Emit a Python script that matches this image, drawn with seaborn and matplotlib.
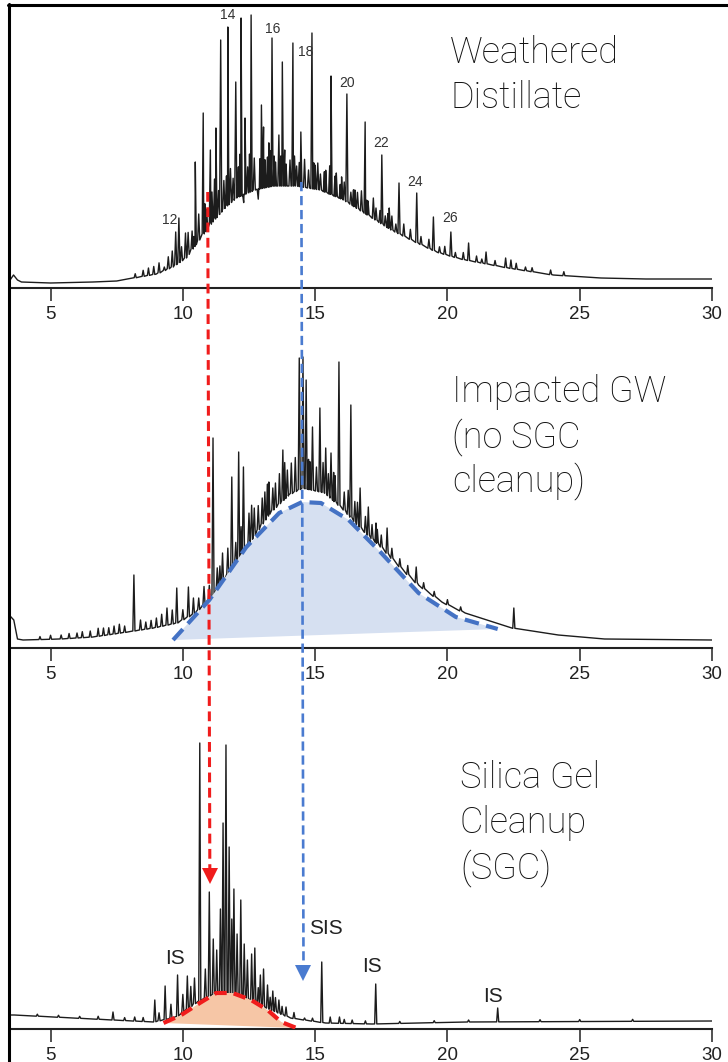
import numpy as np
import matplotlib
matplotlib.use("Agg")
import matplotlib.pyplot as plt
import matplotlib.transforms as mtransforms
from matplotlib.lines import Line2D
import seaborn as sns

sns.set_theme(style="white")
plt.rcParams["font.family"] = ["Liberation Sans", "DejaVu Sans"]

# ------------------------------------------------------------------
# data: retention time (min) / signal (px above each panel's axis)
# ------------------------------------------------------------------
ticks = [5, 10, 15, 20, 25, 30]

# panel 1 - weathered distillate
hump1_t = [3.47, 3.6, 3.75, 3.9, 5.0, 6.6, 7.5, 8.35, 9.0, 9.6, 10.1, 10.6, 11.1, 11.6, 12.0,
           12.7, 13.4, 14.3, 15.2, 16.1, 17.0, 17.9, 18.8, 19.6, 20.5, 22.3, 24.0, 25.8, 27.5, 30.0]
hump1_h = [8, 13, 8, 6, 5, 6, 7, 11, 14, 21, 30, 48, 66, 81, 90,
           98, 102, 102, 98, 88, 73, 58, 46, 36, 29, 20, 13, 10, 9, 9]
peak1_t = [8.7, 9.3, 9.73, 9.85, 10.1, 10.47, 10.77, 11.04, 11.25, 11.43, 11.7, 12.0, 12.2, 12.35,
           12.58, 12.97, 13.05, 13.2, 13.37, 13.63, 13.76, 14.16, 14.46, 14.88, 15.1, 15.6, 15.8,
           16.2, 16.5, 16.89, 17.2, 17.52, 17.8, 18.17, 18.84, 19.47, 20.13, 20.8, 21.46, 22.2,
           22.4, 22.95, 23.9]
peak1_h = [20, 21, 56, 70, 55, 126, 175, 138, 160, 248, 261, 206, 270, 170,
           273, 183, 161, 131, 250, 153, 226, 245, 156, 255, 125, 212, 115,
           194, 98, 166, 90, 133, 80, 105, 95, 71, 56, 45, 36, 30,
           28, 21, 18]
grass1_t = [8.2, 8.5, 8.9, 9.1, 9.45, 9.6, 9.95, 10.2, 10.35, 10.42, 10.6, 10.83, 10.9, 11.1, 11.2,
            11.35, 11.55, 11.65, 11.8, 11.9, 12.1, 12.15, 12.3, 12.45, 12.52, 12.7, 12.85, 12.91,
            13.1, 13.25, 13.3, 13.45, 13.5, 13.7, 13.85, 13.9, 14.05, 14.22, 14.3, 14.4, 14.6,
            14.75, 14.95, 15.0, 15.2, 15.35, 15.4, 15.55, 15.75, 15.95, 16.0, 16.1, 16.35, 16.45,
            16.6, 16.75, 16.95, 17.0, 17.3, 17.45, 17.65, 17.75, 17.9, 18.05, 18.35, 18.6, 19.0,
            19.3, 19.7, 19.9, 20.3, 20.6, 21.1, 21.3, 21.8, 22.6, 23.2, 24.4]
grass1_h = [4, 6, 8, 10, 12, 16, 14, 22, 18, 10, 26, 28, 20, 30, 40,
            24, 28, 30, 34, 22, 30, 42, -8, 26, 38, 32, -10, 30,
            28, 44, 36, 30, 24, 30, 36, 22, 26, 30, 20, 24, 28,
            18, 26, 24, 16, 20, 22, 28, 20, 14, 22, 18, 12, 16,
            16, 20, 14, 14, 12, 12, 10, 14, 14, 8, 12, 10, 8,
            9, 6, 8, 5, 7, 6, 4, 5, 6, 4, 4]
carbon_lbl = ["12", "14", "16", "18", "20", "22", "24", "26"]
carbon_t = [9.52, 11.68, 13.38, 14.63, 16.2, 17.49, 18.78, 20.1]
carbon_h = [68, 273, 259, 236, 205, 145, 106, 70]

# panel 2 - impacted groundwater, no cleanup
hump2_t = [3.47, 3.61, 3.75, 3.96, 5.37, 6.6, 7.65, 8.89, 9.77, 10.47, 11.17, 11.88, 12.58, 13.28,
           13.99, 14.51, 15.39, 16.1, 16.8, 17.5, 18.21, 18.91, 19.79, 20.67, 22.43, 24.19,
           25.94, 30.0]
hump2_h = [32, 28, 9, 8, 9, 11, 15, 20, 25, 35, 53, 81, 108, 135,
           153, 160, 155, 138, 118, 101, 81, 63, 46, 35, 20, 13,
           9, 8]
peak2_t = [5.4, 6.0, 6.5, 7.0, 7.4, 7.8, 8.15, 8.6, 9.0, 9.4, 9.77, 10.21, 10.6, 11.14, 11.5,
           11.85, 12.11, 12.29, 12.7, 13.0, 13.25, 13.5, 13.78, 14.1, 14.4, 14.54, 14.66, 14.9,
           15.18, 15.4, 15.6, 15.9, 16.35, 16.7, 17.01, 17.3, 17.72, 18.82, 22.51]
peak2_h = [13, 15, 17, 20, 22, 22, 73, 26, 30, 40, 60, 61, 50, 210, 95,
           171, 196, 181, 140, 150, 166, 165, 198, 185, 290, 291, 268, 221,
           240, 200, 195, 286, 243, 160, 141, 125, 120, 81, 40]
grass2_t = [4.6, 5.0, 5.7, 6.2, 6.8, 7.2, 7.6, 8.4, 8.8, 9.2, 9.6, 10.0, 10.4, 10.8, 11.0, 11.3,
            11.4, 11.7, 12.0, 12.2, 12.5, 12.6, 12.85, 13.1, 13.2, 13.4, 13.65, 13.85, 13.95,
            14.25, 14.75, 14.8, 15.05, 15.3, 15.5, 15.7, 15.75, 16.1, 16.25, 16.5, 16.6, 16.9,
            17.15, 17.35, 17.5, 17.9, 18.2, 18.5, 19.1, 19.5, 20.0, 20.5]
grass2_h = [3, 4, 5, 6, 8, 7, 9, 10, 8, 12, 14, 10, 16, 18, 14, 22,
            20, 26, 20, 28, 30, 34, 24, 28, 32, 22, 30, 36, 26,
            34, 30, 28, 24, 30, 22, 28, 26, 18, 24, 20, 22, 16,
            14, 14, 12, 10, 8, 9, 6, 5, 5, 4]
blue_t = [9.63, 11.0, 12.4, 13.64, 14.51, 15.22, 16.27, 17.5, 18.91, 20.32, 21.9]
blue_h = [8, 48, 101, 135, 146, 145, 128, 95, 55, 31, 19]

# panel 3 - silica gel cleanup
hump3_t = [3.47, 3.63, 6.6, 8.89, 9.77, 10.47, 11.08, 11.52, 12.05, 12.58, 13.1, 13.63, 14.07,
           15.39, 17.15, 20.67, 30.0]
hump3_h = [14, 14, 10, 7, 12, 26, 34, 36, 34, 29, 22, 16, 11,
           6, 5, 7, 8]
peak3_t = [7.36, 8.18, 8.94, 9.33, 9.8, 10.17, 10.44, 10.64, 10.85, 11.0, 11.15, 11.28, 11.42,
           11.52, 11.63, 11.75, 11.85, 11.93, 12.05, 12.19, 12.32, 12.44, 12.6, 12.72, 12.93,
           13.05, 13.2, 13.4, 13.63, 13.9, 14.6, 15.25, 15.57, 15.92, 16.4, 17.29, 21.9]
peak3_h = [17, 12, 29, 43, 54, 53, 51, 286, 60, 137, 90, 79, 120,
           206, 284, 182, 110, 140, 95, 129, 85, 69, 75, 81, 54,
           60, 44, 38, 29, 22, 11, 67, 12, 12, 9, 45, 21]
grass3_t = [4.5, 5.3, 6.1, 6.8, 7.8, 8.5, 9.1, 9.55, 10.0, 10.3, 12.85, 13.3, 13.5, 13.75, 14.2,
            14.9, 16.1, 16.9, 18.2, 19.5, 20.8, 23.5, 25.0, 27.0]
grass3_h = [2, 2, 2, 3, 3, 4, 8, 14, 18, 20, 16, 12, 14, 8, 6,
            3, 4, 3, 2, 2, 2, 2, 2, 2]
orange_t = [9.27, 9.94, 10.64, 11.26, 11.88, 12.58, 13.2, 13.72, 14.3]
orange_h = [6, 14, 26, 36, 36, 29, 19, 7, 1]
std_lbl = ["IS", "SIS", "IS", "IS"]
std_t = [9.69, 15.41, 17.15, 21.72]
std_h = [71, 100, 62, 33]

titles = [["Weathered", "Distillate"],
          ["Impacted GW", "(no SGC", "cleanup)"],
          ["Silica Gel", "Cleanup", "(SGC)"]]

# ------------------------------------------------------------------
W, H = 728, 1062
fig = plt.figure(figsize=(W / 100, H / 100), dpi=100)


def fy(ypx):
    return 1 - ypx / H


def trace(env_t, env_h, pk_t, pk_h, gr_t, gr_h, w=0.04):
    # hump + spikes (absolute peak heights, grass heights relative to the hump)
    env_t = np.asarray(env_t, float)
    env_h = np.asarray(env_h, float)
    spikes = [(t, h, False) for t, h in zip(pk_t, pk_h)] + \
             [(t, h, True) for t, h in zip(gr_t, gr_h)]
    centres = np.array([s[0] for s in spikes])
    keep = np.array([np.all(np.abs(centres - t) > w) for t in env_t])
    pts = list(zip(env_t[keep], env_h[keep]))
    for t, h, rel in spikes:
        base = float(np.interp(t, env_t, env_h))
        top = base + h if rel else h
        pts += [(t - w, base), (t, top), (t + w, base)]
    pts.sort()
    x, y = zip(*pts)
    return np.array(x), np.array(y)


boxes = [(6, 288), (300, 648), (680, 1029)]
axes = []
for top, bot in boxes:
    ax = fig.add_axes([10 / W, fy(bot), 702 / W, (bot - top) / H])
    ax.set_xlim(3.467, 30)
    ax.set_ylim(0, bot - top)
    ax.patch.set_alpha(0)
    for s in ("left", "right", "top"):
        ax.spines[s].set_visible(False)
    ax.spines["bottom"].set_linewidth(1.5)
    ax.spines["bottom"].set_color("#222222")
    ax.set_xticks(ticks)
    ax.set_yticks([])
    ax.tick_params(axis="x", bottom=True, direction="out", length=9.5, width=1.1,
                   pad=3.5, labelsize=13.5, colors="#222222")
    axes.append(ax)

traces = [trace(hump1_t, hump1_h, peak1_t, peak1_h, grass1_t, grass1_h),
          trace(hump2_t, hump2_h, peak2_t, peak2_h, grass2_t, grass2_h),
          trace(hump3_t, hump3_h, peak3_t, peak3_h, grass3_t, grass3_h)]
for ax, (x, y) in zip(axes, traces):
    sns.lineplot(x=x, y=y, sort=False, estimator=None, ax=ax, color="#1c1c1c",
                 lw=1.0, legend=False, zorder=2)

# carbon number labels
for lbl, t, h in zip(carbon_lbl, carbon_t, carbon_h):
    axes[0].text(t, h, lbl, ha="center", va="center", fontsize=10, color="#333333")

# unresolved hump outlines
ax = axes[1]
ax.fill(blue_t, blue_h, color="#d6e0f1", lw=0, zorder=3)
ax.plot(blue_t, blue_h, color="#4472c4", lw=3, ls=(0, (3.5, 1.8)), zorder=4)
ax = axes[2]
ax.fill(orange_t, orange_h, color="#f6c6a6", lw=0, zorder=3)
ax.plot(orange_t, orange_h, color="#f01c1c", lw=3, ls=(0, (3.0, 1.7)), zorder=4)
for lbl, t, h in zip(std_lbl, std_t, std_h):
    ax.text(t, h, lbl, ha="center", va="center", fontsize=15, color="#222222")

# sample names
title_pos = [(450, [63, 108]), (452, [402, 447, 491]), (460, [788, 833, 878])]
for lines, (xp, ys) in zip(titles, title_pos):
    for txt, yp in zip(lines, ys):
        fig.text(xp / W, fy(yp), txt, fontsize=26, family=["Roboto", "DejaVu Sans"],
                 fontweight="light", va="baseline", ha="left", color="#111111")

# retention markers running through the three panels
blend = mtransforms.blended_transform_factory(axes[0].transData, fig.transFigure)
fig.add_artist(Line2D([10.94, 11.02], [fy(192), fy(869)], color="#f01c1c", lw=2.2,
                      ls=(0, (3.2, 1.8)), transform=blend, zorder=5))
fig.add_artist(Line2D([11.03], [fy(875.5)], marker="v", ms=11, mew=0, color="#f01c1c",
                      ls="none", transform=blend, zorder=5))
fig.add_artist(Line2D([14.48, 14.56], [fy(182), fy(966)], color="#4a7bd0", lw=1.9,
                      ls=(0, (3.5, 1.8)), transform=blend, zorder=5))
fig.add_artist(Line2D([14.56], [fy(973)], marker="v", ms=12, mew=0, color="#4a7bd0",
                      ls="none", transform=blend, zorder=5))

# outer frame (left and top edges)
fig.add_artist(Line2D([8.5 / W, 8.5 / W], [fy(4), 0], color="black", lw=2.2,
                      transform=fig.transFigure))
fig.add_artist(Line2D([7.7 / W, 1], [fy(5), fy(5)], color="black", lw=2.2,
                      transform=fig.transFigure))

fig.savefig("out.png", dpi=100)
